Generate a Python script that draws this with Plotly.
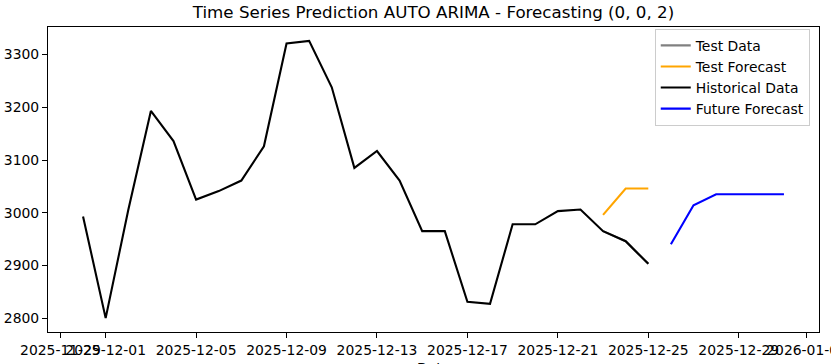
import plotly.graph_objects as go
import pandas as pd

hist_dates = pd.date_range("2025-11-30", "2025-12-25", freq="D").strftime("%Y-%m-%d").tolist()
hist_values = [2993, 2800, 3005, 3193, 3136, 3025, 3041, 3061, 3126, 3321, 3326, 3238,
               3085, 3117, 3061, 2965, 2965, 2831, 2827, 2978, 2978, 3003, 3006, 2965, 2946, 2903]

test_dates = ["2025-12-23", "2025-12-24", "2025-12-25"]
test_values = [2965, 2946, 2903]
test_forecast = [2996, 3046, 3046]

future_dates = pd.date_range("2025-12-26", "2025-12-31", freq="D").strftime("%Y-%m-%d").tolist()
future_values = [2940, 3014, 3035, 3035, 3035, 3035]

xtick_vals = ["2025-11-29", "2025-12-01", "2025-12-05", "2025-12-09", "2025-12-13",
              "2025-12-17", "2025-12-21", "2025-12-25", "2025-12-29", "2026-01-01"]
ytick_vals = [2800, 2900, 3000, 3100, 3200, 3300]

FONT = "DejaVu Sans"
lw = 2.1

fig = go.Figure()
fig.add_trace(go.Scatter(x=test_dates, y=test_values, mode="lines", name="Test Data",
                         line=dict(color="gray", width=lw)))
fig.add_trace(go.Scatter(x=test_dates, y=test_forecast, mode="lines", name="Test Forecast",
                         line=dict(color="orange", width=lw)))
fig.add_trace(go.Scatter(x=hist_dates, y=hist_values, mode="lines", name="Historical Data",
                         line=dict(color="black", width=lw)))
fig.add_trace(go.Scatter(x=future_dates, y=future_values, mode="lines", name="Future Forecast",
                         line=dict(color="blue", width=lw)))

axis_common = dict(showline=True, linecolor="black", linewidth=1.1, mirror=True,
                   ticks="outside", ticklen=5, tickcolor="black", tickwidth=1,
                   showgrid=False, zeroline=False, automargin=False,
                   ticklabeloverflow="allow",
                   tickfont=dict(family=FONT, size=13.9, color="black"))

fig.update_layout(
    width=831, height=364,
    margin=dict(l=48, r=12, t=27, b=32, autoexpand=False),
    paper_bgcolor="white", plot_bgcolor="white",
    font=dict(family=FONT, color="black"),
    title=dict(text="Time Series Prediction AUTO ARIMA - Forecasting (0, 0, 2)",
               x=0.5, xref="paper", xanchor="center", y=1 - 12 / 364, yanchor="middle",
               font=dict(family=FONT, size=16.7, color="black")),
    xaxis=dict(type="date", range=["2025-11-28 10:48", "2026-01-01 13:12"],
               tickvals=xtick_vals, ticktext=xtick_vals, tickangle=0, **axis_common),
    yaxis=dict(range=[2773.7, 3352.3], tickvals=ytick_vals, **axis_common),
    showlegend=True,
    legend=dict(x=0.988, y=0.994, xanchor="right", yanchor="top",
                bgcolor="rgba(255,255,255,0.8)", bordercolor="#cccccc", borderwidth=1,
                font=dict(family=FONT, size=13.9, color="black"),
                tracegroupgap=0, itemwidth=30),
    annotations=[dict(text="Date", xref="paper", yref="paper", x=0.5, y=-(368 - 332) / 305,
                      xanchor="center", yanchor="middle", showarrow=False,
                      font=dict(family=FONT, size=13.9, color="black"))],
)

fig.write_html("out.html", config={"displayModeBar": False},
               post_script="document.body.style.margin='0';")
